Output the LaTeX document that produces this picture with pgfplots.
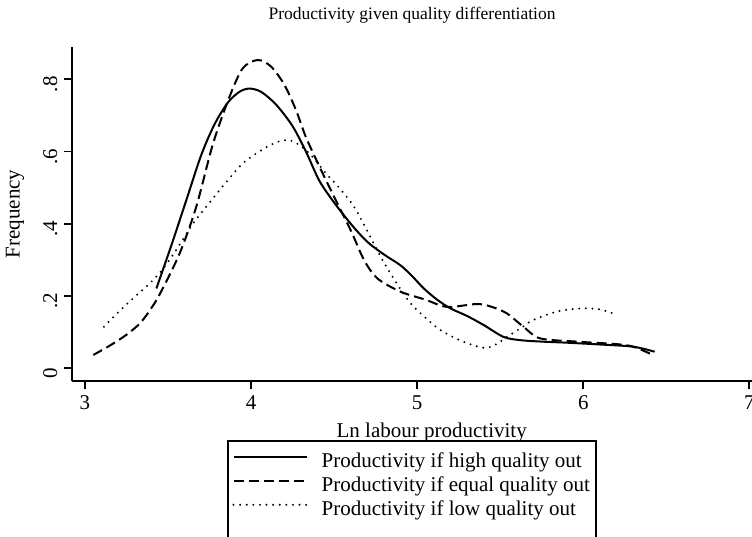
\documentclass[border=0pt]{standalone}
\usepackage{fontspec}
\setmainfont{Liberation Serif}
\usepackage{pgfplots}
\pgfplotsset{compat=1.18}
\begin{document}
\begin{tikzpicture}
\path[use as bounding box] (0,0) rectangle (376pt,268.5pt);
\begin{axis}[
 at={(36pt,78pt)}, anchor=south west,
 scale only axis, width=340pt, height=167pt,
 xmin=2.922, xmax=7.016, ymin=-0.035, ymax=0.889,
 axis x line*=bottom, axis y line*=left,
 axis line style={line width=0.9pt, -},
 xtick={3,4,5,6,7},
 ytick={0,0.2,0.4,0.6,0.8},
 yticklabels={0,.2,.4,.6,.8},
 tick align=outside, major tick length=3.75pt,
 tick style={line width=0.9pt, black},
 /pgf/number format/assume math mode=true,
 ticklabel style={font=\fontsize{10.5}{12}\selectfont},
 yticklabel style={rotate=90, anchor=south, xshift=-2.5pt},
 every axis title shift=0pt,
 title={Productivity given quality differentiation},
 title style={at={(axis description cs:0.5,1.081)}, anchor=base, font=\fontsize{8.75}{10}\selectfont, inner sep=0pt},
 xlabel={Ln labour productivity},
 xlabel style={at={(axis description cs:0.529,-0.168)}, anchor=base, inner sep=0pt, font=\fontsize{10.5}{12}\selectfont},
 ylabel={Frequency},
 ylabel style={at={(axis description cs:-0.077,0.5)}, anchor=base, inner sep=0pt, font=\fontsize{10.5}{12}\selectfont},
 legend style={at={(axis description cs:0.2353,-0.2096)}, anchor=north west, draw=none, fill=none,
   inner xsep=0pt, inner ysep=0pt, row sep=0pt, font=\fontsize{10.5}{12}\selectfont,
   cells={anchor=west}, nodes={inner sep=0pt, text height=8pt, text depth=4pt},
   /tikz/every odd column/.append style={column sep=7pt}},
 legend cell align=left,
 legend image code/.code={\draw[#1] (0pt,3.3pt) -- (36.5pt,3.3pt);},
 every axis plot/.append style={line width=1pt, black},
]
\addplot[smooth, solid] coordinates {
(3.43,0.221)(3.52,0.34)(3.61,0.465)(3.70,0.59)(3.78,0.675)(3.86,0.735)(3.93,0.765)
(3.99,0.774)(4.06,0.765)(4.15,0.73)(4.25,0.67)(4.33,0.60)(4.41,0.52)(4.49,0.465)
(4.60,0.40)(4.70,0.35)(4.80,0.315)(4.90,0.285)(4.97,0.255)(5.04,0.221)(5.12,0.19)
(5.20,0.166)(5.30,0.145)(5.40,0.12)(5.52,0.087)(5.62,0.078)(5.75,0.074)(5.90,0.071)
(6.10,0.066)(6.30,0.06)(6.43,0.046)};
\addlegendentry{Productivity if high quality out}
\addplot[smooth, dash pattern=on 5pt off 2.5pt] coordinates {
(3.05,0.037)(3.15,0.063)(3.25,0.093)(3.33,0.124)(3.39,0.16)(3.45,0.205)(3.57,0.318)
(3.67,0.447)(3.77,0.62)(3.87,0.751)(3.95,0.83)(4.04,0.853)(4.12,0.835)(4.20,0.785)
(4.27,0.715)(4.33,0.64)(4.41,0.56)(4.49,0.484)(4.60,0.382)(4.68,0.30)(4.76,0.249)
(4.90,0.212)(5.05,0.19)(5.18,0.17)(5.36,0.178)(5.45,0.17)(5.54,0.152)(5.64,0.115)
(5.74,0.083)(5.96,0.074)(6.2,0.067)(6.3,0.06)(6.42,0.037)};
\addlegendentry{Productivity if equal quality out}
\addplot[smooth, line width=1.1pt, line cap=round, dash pattern=on 0pt off 3.3pt] coordinates {
(3.114,0.115)(3.2,0.155)(3.30,0.198)(3.39,0.235)(3.47,0.275)(3.56,0.335)(3.65,0.40)
(3.73,0.447)(3.85,0.515)(3.95,0.567)(4.05,0.60)(4.15,0.625)(4.23,0.631)(4.30,0.615)
(4.37,0.585)(4.45,0.54)(4.53,0.50)(4.62,0.447)(4.70,0.38)(4.78,0.309)(4.87,0.24)
(4.96,0.18)(5.05,0.14)(5.14,0.106)(5.27,0.075)(5.40,0.057)(5.47,0.065)(5.54,0.087)
(5.62,0.11)(5.70,0.134)(5.85,0.158)(6.00,0.166)(6.10,0.163)(6.18,0.152)};
\addlegendentry{Productivity if low quality out}
\end{axis}
\draw[line width=0.9pt] (114pt,48pt) rectangle (298pt,-10pt);
\end{tikzpicture}
\end{document}
